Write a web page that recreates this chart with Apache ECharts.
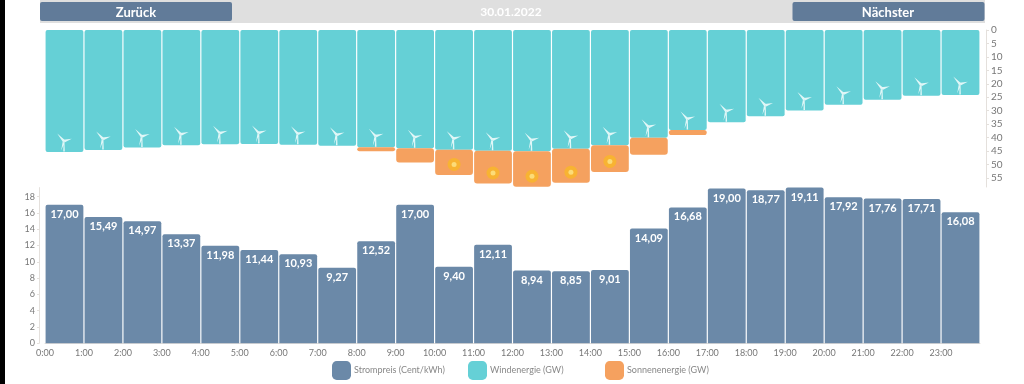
<!DOCTYPE html>
<html>
<head>
<meta charset="utf-8">
<style>html,body{margin:0;padding:0;background:#fff}#c{width:1024px;height:384px}</style>
<script src="https://cdn.jsdelivr.net/npm/echarts@6/dist/echarts.min.js"></script>
</head>
<body>
<div id="c"></div>
<script>
const dateLabel = '30.01.2022';
const prevLabel = 'Zurück';
const nextLabel = 'Nächster';
const hours = ['0:00','1:00','2:00','3:00','4:00','5:00','6:00','7:00','8:00','9:00','10:00','11:00','12:00','13:00','14:00','15:00','16:00','17:00','18:00','19:00','20:00','21:00','22:00','23:00'];
const wind = [45.4,44.6,43.7,42.9,42.5,42.4,42.7,43.1,43.6,44.0,44.5,44.9,45.1,44.2,42.9,40.1,37.2,34.3,32.1,29.9,27.8,25.9,24.5,24.2];
const solar = [0,0,0,0,0,0,0,0,1.5,5.3,9.4,12.2,13.2,12.6,9.9,6.3,1.9,0,0,0,0,0,0,0];
const price = [17.00,15.49,14.97,13.37,11.98,11.44,10.93,9.27,12.52,17.00,9.40,12.11,8.94,8.85,9.01,14.09,16.68,19.00,18.77,19.11,17.92,17.76,17.71,16.08];

const FONT = 'Lato';
const turbine = 'path://M0 0 L25 19 L20 26 Z M20 18 L48 15 L24 26 Z M18 24 L13 50 L24 26 Z M21 24 L20 53 L25 53 L24 24 Z';
const turbinePts = wind.map((w, i) => [i, w]);
const sunPts = solar.map((s, i) => [i, wind[i] + s]).filter((p, i) => solar[i] > 8);
const axisGrey = '#e4e0dc', textGrey = '#777';
const legendBase = {top: 361, padding: 0, itemWidth: 19, itemHeight: 19, itemGap: 0, icon: 'roundRect',
  textStyle: {color: '#888', fontSize: 9, fontFamily: FONT, padding: [0, 0, 0, -2]}};

const chart = echarts.init(document.getElementById('c'), null, {renderer: 'canvas'});
chart.setOption({
  animation: false,
  backgroundColor: '#fff',
  textStyle: {fontFamily: FONT},
  grid: [
    {left: 45, right: 44, top: 30, height: 157},
    {left: 45, right: 44, top: 187.6, height: 155.7}
  ],
  xAxis: [
    {type: 'category', gridIndex: 0, data: hours, show: false},
    {type: 'category', gridIndex: 1, data: hours,
     axisLine: {lineStyle: {color: axisGrey}},
     axisTick: {length: 3, lineStyle: {color: axisGrey}},
     axisLabel: {color: textGrey, fontSize: 9, fontFamily: FONT, margin: 5, interval: 0, padding: [0, 39, 0, 0]}}
  ],
  yAxis: [
    {type: 'value', gridIndex: 0, position: 'right', offset: 6, inverse: true, min: 0, max: 58.4, interval: 5,
     splitLine: {show: false},
     axisLine: {show: true, lineStyle: {color: axisGrey}},
     axisTick: {show: true, length: 3, lineStyle: {color: axisGrey}},
     axisLabel: {color: textGrey, fontSize: 10, fontFamily: FONT, margin: 5, showMaxLabel: false}},
    {type: 'value', gridIndex: 1, position: 'left', offset: 6, min: 0, max: 19.11, interval: 2,
     splitLine: {show: false},
     axisLine: {show: true, lineStyle: {color: axisGrey}},
     axisTick: {show: true, length: 2, lineStyle: {color: axisGrey}},
     axisLabel: {color: textGrey, fontSize: 9, fontFamily: FONT, margin: 4, showMaxLabel: false}}
  ],
  legend: [
    Object.assign({}, legendBase, {left: 332, data: ['Strompreis (Cent/kWh)']}),
    Object.assign({}, legendBase, {left: 468, data: ['Windenergie (GW)']}),
    Object.assign({}, legendBase, {left: 605, data: ['Sonnenenergie (GW)']})
  ],
  series: [
    {name: 'Windenergie (GW)', type: 'bar', stack: 'e', xAxisIndex: 0, yAxisIndex: 0, data: wind,
     barCategoryGap: '3%', itemStyle: {color: '#65d0d6', borderRadius: 2}},
    {name: 'Sonnenenergie (GW)', type: 'bar', stack: 'e', xAxisIndex: 0, yAxisIndex: 0, data: solar,
     barCategoryGap: '3%', itemStyle: {color: '#f5a15f', borderRadius: 3}},
    {name: 'turbines', type: 'scatter', xAxisIndex: 0, yAxisIndex: 0, data: turbinePts, silent: true, z: 5,
     symbol: turbine, symbolSize: [16, 18], symbolKeepAspect: true, symbolOffset: [0, -9.5],
     itemStyle: {color: '#eafafa', opacity: 0.92}},
    {name: 'sunGlow', type: 'scatter', xAxisIndex: 0, yAxisIndex: 0, data: sunPts, silent: true, z: 5,
     symbol: 'circle', symbolSize: 13, symbolOffset: [0, -10.5],
     itemStyle: {color: '#f8b52e', opacity: 0.9}},
    {name: 'sunCore', type: 'scatter', xAxisIndex: 0, yAxisIndex: 0, data: sunPts, silent: true, z: 6,
     symbol: 'circle', symbolSize: 5, symbolOffset: [0, -10.5],
     itemStyle: {color: '#fde68a'}},
    {name: 'Strompreis (Cent/kWh)', type: 'bar', xAxisIndex: 1, yAxisIndex: 1, data: price,
     barCategoryGap: '3%', itemStyle: {color: '#6b89a8', borderRadius: [2, 2, 0, 0]},
     label: {show: true, position: 'insideTop', distance: 4, color: '#fff', fontSize: 11, fontWeight: 'bold', fontFamily: FONT,
       formatter: p => p.value.toFixed(2).replace('.', ',')}}
  ],
  graphic: [
    {type: 'rect', silent: true, shape: {x: 0, y: 0, width: 5, height: 384}, style: {fill: '#000'}},
    {type: 'rect', silent: true, shape: {x: 40, y: 0, width: 945, height: 23}, style: {fill: '#dfdfdf'}},
    {type: 'rect', silent: true, shape: {x: 40, y: 2, width: 192, height: 19, r: 2}, style: {fill: '#617b99'}},
    {type: 'rect', silent: true, shape: {x: 792.5, y: 2, width: 192, height: 19, r: 2}, style: {fill: '#617b99'}},
    {type: 'text', silent: true, x: 136, y: 12.5, style: {text: prevLabel, fill: '#fff', font: 'bold 13px ' + FONT, textAlign: 'center', textVerticalAlign: 'middle'}},
    {type: 'text', silent: true, x: 511, y: 12.5, style: {text: dateLabel, fill: '#fff', font: 'bold 12px ' + FONT, textAlign: 'center', textVerticalAlign: 'middle'}},
    {type: 'text', silent: true, x: 888, y: 12.5, style: {text: nextLabel, fill: '#fff', font: 'bold 13px ' + FONT, textAlign: 'center', textVerticalAlign: 'middle'}}
  ]
});
</script>
</body>
</html>
